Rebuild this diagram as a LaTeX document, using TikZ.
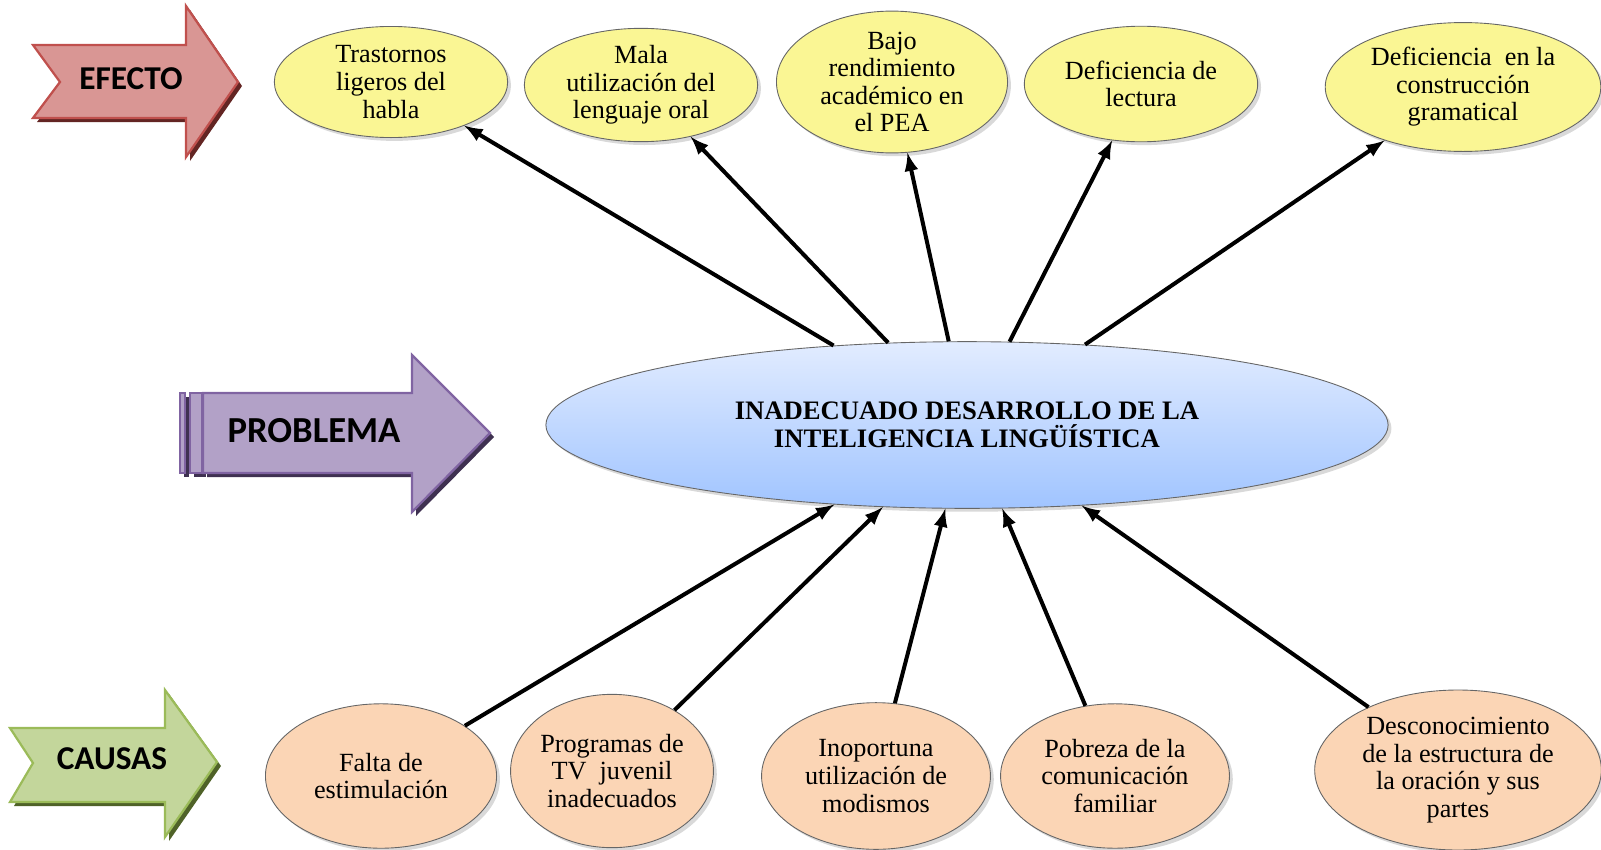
\documentclass[tikz,border=0pt]{standalone}
\usepackage{fontspec}
\setmainfont{Liberation Serif}
\newfontfamily\calibri{Carlito}
\usetikzlibrary{shapes.geometric,shadows}
\tikzset{>=latex}
\definecolor{efectofill}{RGB}{217,150,148}
\definecolor{efectoline}{RGB}{192,80,77}
\definecolor{efectoshade}{RGB}{99,37,35}
\definecolor{probfill}{RGB}{178,161,199}
\definecolor{probline}{RGB}{128,100,162}
\definecolor{probshade}{RGB}{63,49,81}
\definecolor{causafill}{RGB}{195,214,155}
\definecolor{causaline}{RGB}{155,187,89}
\definecolor{causashade}{RGB}{79,98,40}
\definecolor{yellowfill}{RGB}{250,246,148}
\definecolor{orangefill}{RGB}{251,213,181}
\definecolor{bluetop}{RGB}{226,236,255}
\definecolor{bluebottom}{RGB}{160,196,255}
\tikzset{
  bubble/.style={ellipse, draw=gray!80!black, line width=0.4pt, inner sep=0pt, align=center,
    font=\fontsize{11.8}{12.4}\selectfont,
    drop shadow={opacity=0.3, shadow xshift=1.5pt, shadow yshift=-1.5pt}},
  efecto/.style={bubble, fill=yellowfill},
  causa/.style={bubble, fill=orangefill},
  label/.style={font=\calibri\bfseries\fontsize{15}{18}\selectfont},
  link/.style={->, line width=1.8pt}
}

\begin{document}
\begin{tikzpicture}[x=0.45pt,y=-0.45pt]
\useasboundingbox (0,0) rectangle (1601,849);

% big arrows on the left
\fill[efectoshade] (37,49) -- (190,49) -- (190,10) -- (242,86) -- (190,161) -- (190,122) -- (37,122) -- (64,86) -- cycle;
\filldraw[fill=efectofill,draw=efectoline,line width=1pt] (33,45) -- (186,45) -- (186,6) -- (238,82) -- (186,157) -- (186,118) -- (33,118) -- (60,82) -- cycle;
\node[label] (efecto) at (131,79) {EFECTO};

\fill[probshade] (184,397) rectangle (189,477);
\fill[probshade] (194,397) rectangle (206,477);
\fill[probshade] (207,397) -- (416,397) -- (416,359) -- (494,437) -- (416,516) -- (416,477) -- (207,477) -- cycle;
\filldraw[fill=probfill,draw=probline,line width=1pt] (180,393) rectangle (185,473);
\filldraw[fill=probfill,draw=probline,line width=1pt] (190,393) rectangle (202,473);
\filldraw[fill=probfill,draw=probline,line width=1pt] (203,393) -- (412,393) -- (412,355) -- (490,433) -- (412,512) -- (412,473) -- (203,473) -- cycle;
\node[label,font=\calibri\bfseries\fontsize{16.5}{19}\selectfont] (problema) at (314,431) {PROBLEMA};

\fill[causashade] (14,732) -- (169,732) -- (169,694) -- (221,766) -- (169,841) -- (169,806) -- (14,806) -- (37,767) -- cycle;
\filldraw[fill=causafill,draw=causaline,line width=1pt] (10,728) -- (165,728) -- (165,690) -- (217,762) -- (165,837) -- (165,802) -- (10,802) -- (33,763) -- cycle;
\node[label] (causas) at (112,759) {CAUSAS};

% problem
\node[ellipse, draw=gray!80!black, inner sep=0pt, minimum width=379pt, minimum height=75pt,
  top color=bluetop, bottom color=bluebottom,
  drop shadow={opacity=0.3, shadow xshift=1.5pt, shadow yshift=-1.5pt},
  align=center, font=\bfseries\fontsize{12}{12.4}\selectfont] (prob) at (967,425)
  {INADECUADO DESARROLLO DE LA\\INTELIGENCIA LINGÜÍSTICA};

% effects
\node[efecto, minimum width=105pt, minimum height=50pt] (e1) at (391,82) {Trastornos\\ligeros del\\habla};
\node[efecto, minimum width=105pt, minimum height=51pt] (e2) at (641,85) {Mala\\utilización del\\lenguaje oral};
\node[efecto, minimum width=104pt, minimum height=60pt] (e3) at (892,82) {Bajo\\rendimiento\\académico en\\el PEA};
\node[efecto, minimum width=105pt, minimum height=52pt] (e4) at (1141,84) {Deficiencia de\\lectura};
\node[efecto, minimum width=124pt, minimum height=58pt] (e5) at (1463,87) {Deficiencia~ en la\\construcción\\gramatical};

% causes
\node[causa, minimum width=104pt, minimum height=65pt] (c1) at (381,776) {Falta de\\estimulación};
\node[causa, minimum width=91pt, minimum height=69pt] (c2) at (612,771) {Programas de\\TV~ juvenil\\inadecuados};
\node[causa, minimum width=103pt, minimum height=66pt] (c3) at (876,776) {Inoportuna\\utilización de\\modismos};
\node[causa, minimum width=103pt, minimum height=65pt] (c4) at (1115,776) {Pobreza de la\\comunicación\\familiar};
\node[causa, minimum width=129pt, minimum height=72pt] (c5) at (1458,770) {Desconocimiento\\de la estructura de\\la oración y sus\\partes};

% connectors
\foreach \n in {e1,e2,e3,e4,e5}
  \draw[link] (prob) -- (\n);
\foreach \n in {c1,c2,c3,c4,c5}
  \draw[link] (\n) -- (prob);
\end{tikzpicture}
\end{document}
